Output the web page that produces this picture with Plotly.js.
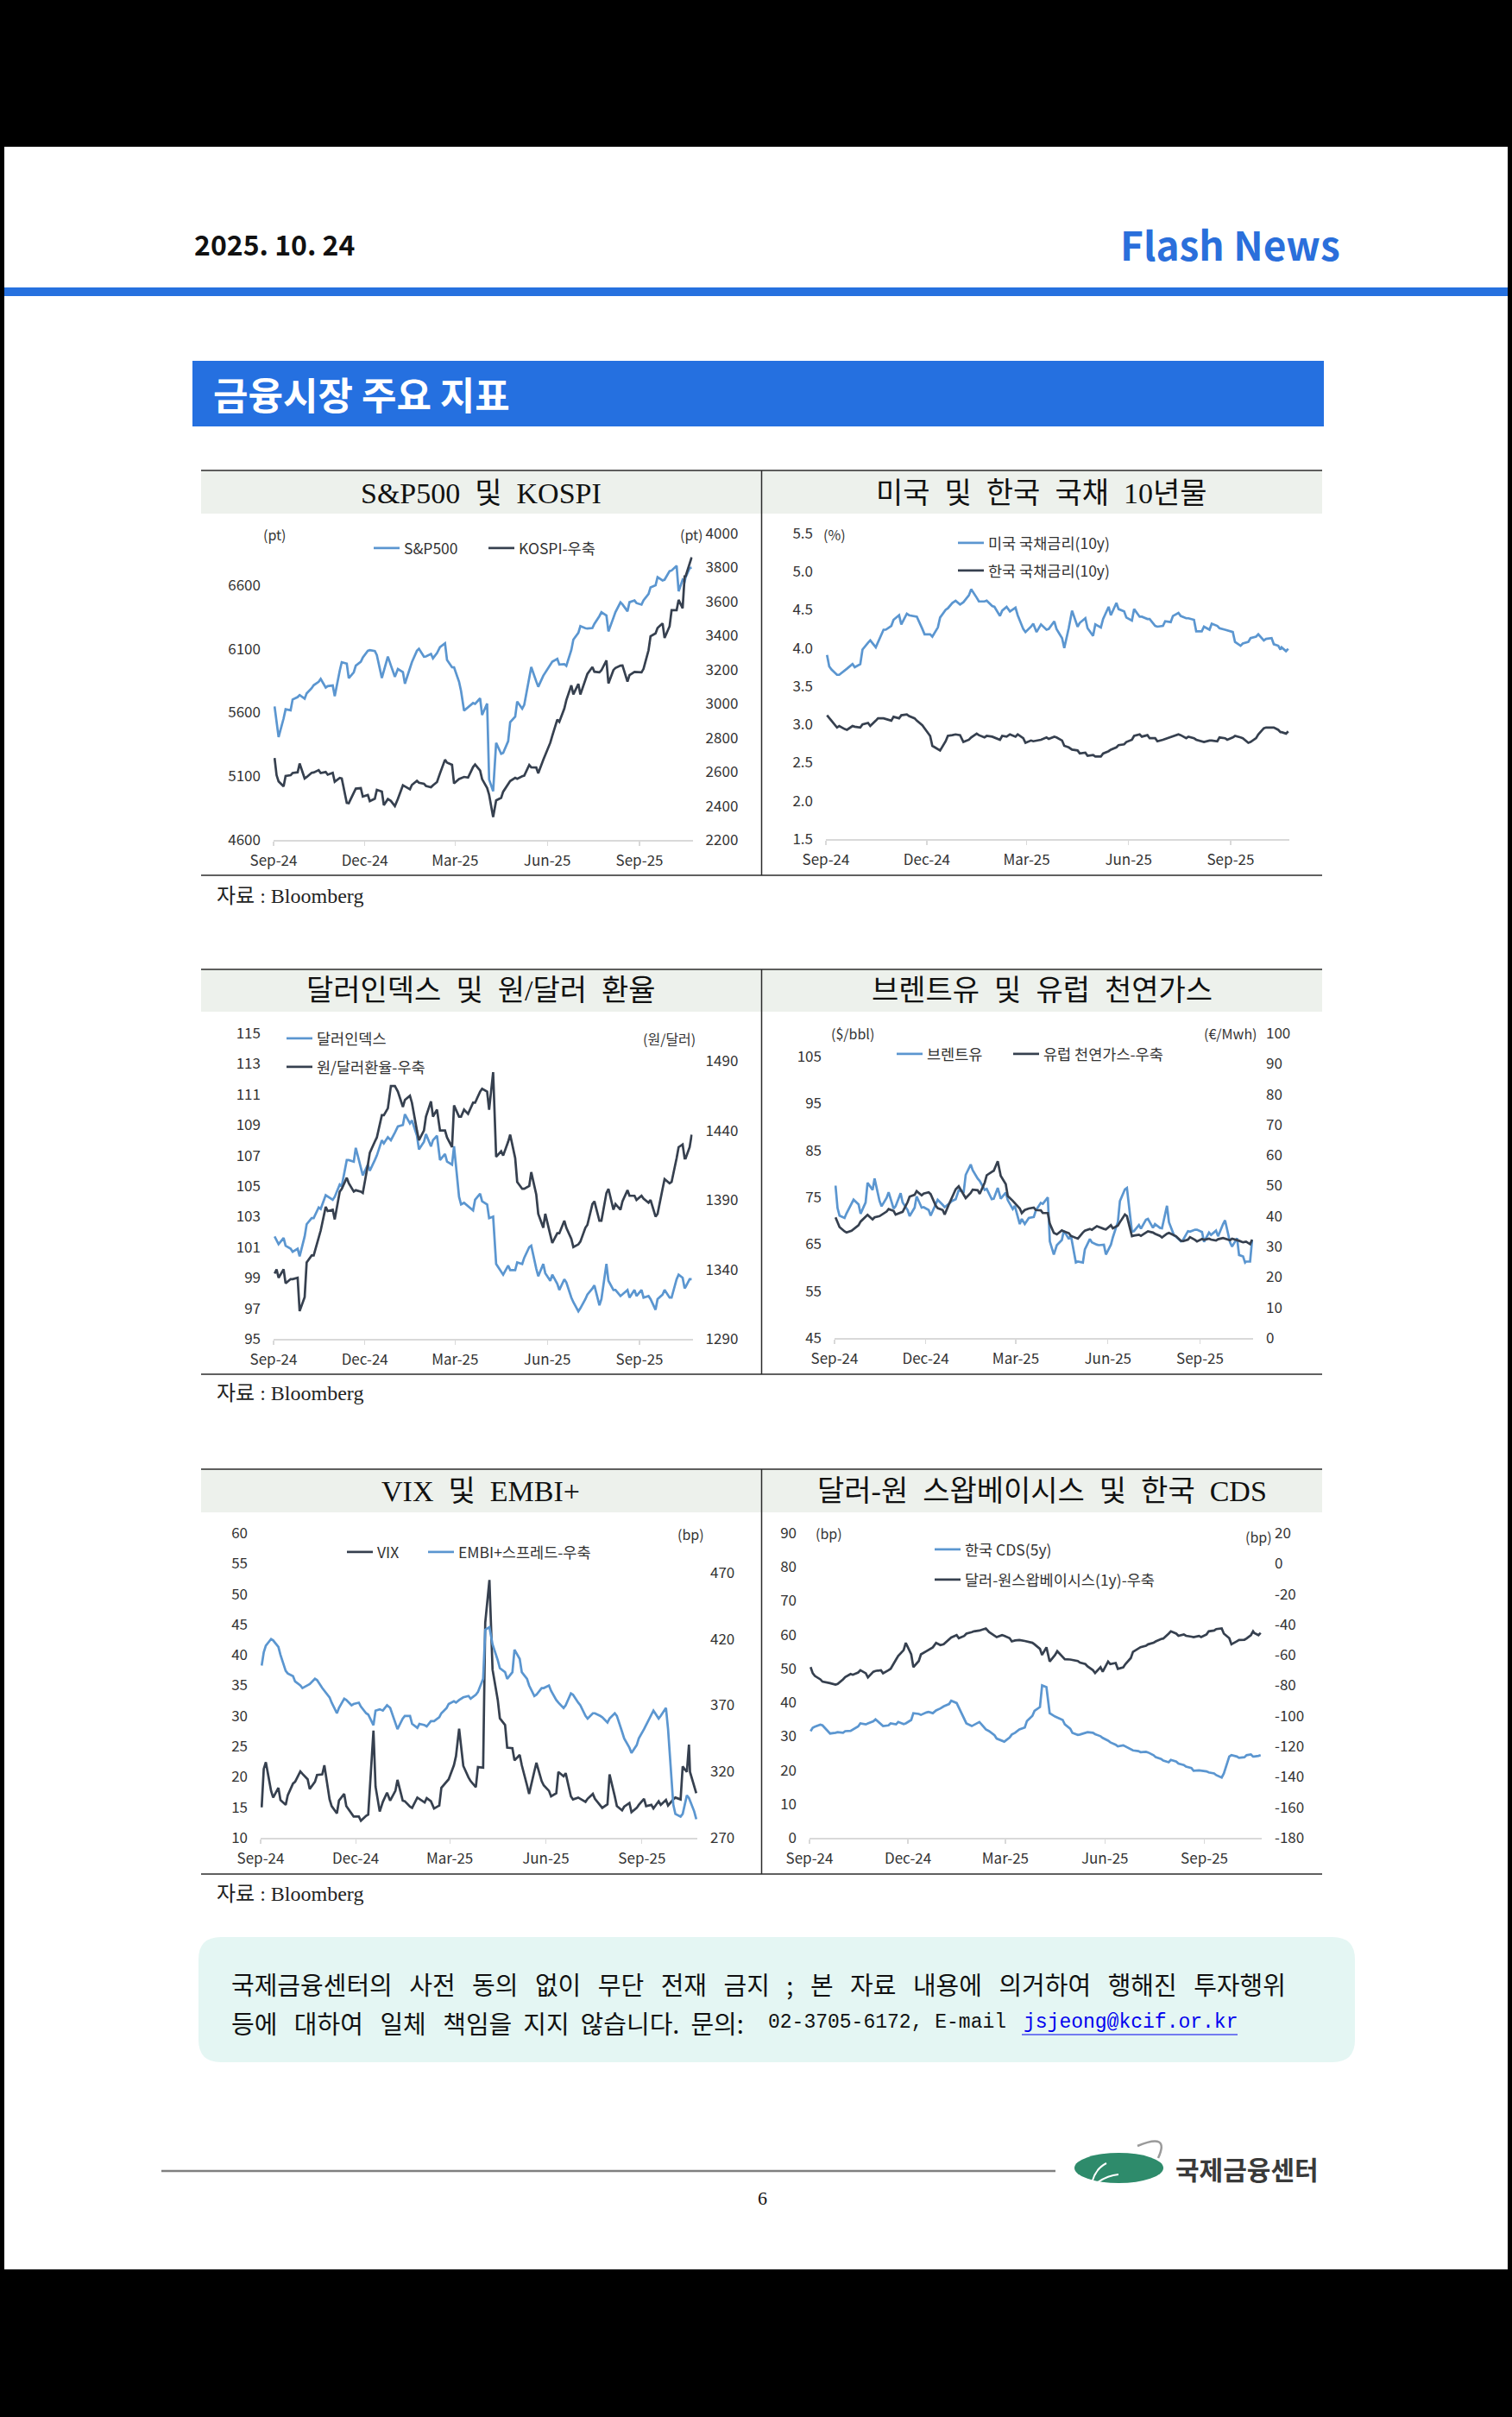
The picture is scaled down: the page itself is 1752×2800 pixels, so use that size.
<!DOCTYPE html>
<html>
<head>
<meta charset="utf-8">
<script src="https://cdn.plot.ly/plotly-3.0.1.min.js"></script>
<style>
html,body{margin:0;padding:0;background:#000;}
#page{width:1752px;height:2800px;}
</style>
</head>
<body>
<div id="page"></div>
<script>
// ---------------- DATA ----------------
const dates = [
'2024-09-02','2024-09-04','2024-09-06','2024-09-11','2024-09-13','2024-09-18','2024-09-20','2024-09-25','2024-09-27','2024-10-02',
'2024-10-04','2024-10-09','2024-10-11','2024-10-16','2024-10-18','2024-10-23','2024-10-25','2024-10-30','2024-11-01','2024-11-06',
'2024-11-08','2024-11-13','2024-11-15','2024-11-20','2024-11-22','2024-11-27','2024-11-29','2024-12-04','2024-12-06','2024-12-11',
'2024-12-13','2024-12-18','2024-12-20','2024-12-24','2024-12-27','2024-12-31','2025-01-03','2025-01-08','2025-01-10','2025-01-15',
'2025-01-17','2025-01-22','2025-01-24','2025-01-29','2025-01-31','2025-02-05','2025-02-07','2025-02-11','2025-02-14','2025-02-19',
'2025-02-21','2025-02-26','2025-02-28','2025-03-05','2025-03-07','2025-03-10','2025-03-14','2025-03-19','2025-03-21','2025-03-26',
'2025-03-28','2025-04-02','2025-04-04','2025-04-08','2025-04-11','2025-04-16','2025-04-18','2025-04-23','2025-04-25','2025-04-30',
'2025-05-02','2025-05-07','2025-05-09','2025-05-14','2025-05-16','2025-05-21','2025-05-23','2025-05-28','2025-05-30','2025-06-04',
'2025-06-06','2025-06-11','2025-06-13','2025-06-18','2025-06-20','2025-06-25','2025-06-27','2025-07-02','2025-07-04','2025-07-09',
'2025-07-11','2025-07-16','2025-07-18','2025-07-23','2025-07-25','2025-07-30','2025-08-01','2025-08-06','2025-08-08','2025-08-13',
'2025-08-15','2025-08-20','2025-08-22','2025-08-27','2025-08-29','2025-09-03','2025-09-05','2025-09-10','2025-09-12','2025-09-17',
'2025-09-19','2025-09-24','2025-09-26','2025-10-01','2025-10-03','2025-10-08','2025-10-10','2025-10-14','2025-10-16','2025-10-17',
'2025-10-21','2025-10-23'];

const tickDates = ['2024-09-01','2024-12-01','2025-03-01','2025-06-01','2025-09-01'];
const tickText = ['Sep-24','Dec-24','Mar-25','Jun-25','Sep-25'];

const sp500 = [
5648,5520,5408,5554,5626,5618,5703,5722,5738,5709,
5751,5792,5815,5842,5864,5797,5808,5813,5729,5929,
5996,5985,5870,5917,5969,5999,6032,6086,6090,6084,
6051,5872,5930,6040,5970,5882,5942,5918,5827,5950,
5997,6086,6101,6039,6041,6061,6026,6068,6115,6144,
6013,5956,5955,5842,5770,5615,5639,5675,5668,5712,
5581,5671,5074,4982,5363,5276,5283,5376,5525,5569,
5687,5631,5660,5892,5958,5845,5803,5889,5912,5970,
6000,6022,5977,5981,5967,6092,6173,6227,6279,6263,
6260,6264,6297,6358,6389,6362,6238,6345,6389,6466,
6450,6396,6467,6481,6460,6448,6482,6532,6584,6600,
6664,6638,6644,6711,6716,6753,6553,6644,6630,6664,
6735,6738];
const kospi = [
2681,2580,2544,2514,2575,2580,2593,2597,2649,2561,
2569,2594,2596,2610,2593,2599,2583,2594,2542,2564,
2561,2418,2416,2481,2501,2504,2455,2464,2428,2442,
2494,2484,2404,2440,2429,2399,2441,2521,2515,2497,
2523,2547,2536,2530,2517,2509,2521,2540,2591,2671,
2654,2641,2532,2558,2563,2570,2566,2628,2643,2607,
2557,2505,2465,2334,2432,2447,2483,2525,2546,2565,
2559,2574,2577,2640,2626,2625,2592,2670,2697,2771,
2812,2907,2894,2972,3021,3108,3055,3116,3054,3133,
3175,3215,3188,3184,3196,3254,3119,3198,3210,3224,
3225,3130,3168,3187,3186,3184,3205,3314,3396,3413,
3445,3472,3386,3455,3549,3549,3610,3561,3748,3749,
3823,3860];
const us10y = [
3.91,3.76,3.72,3.65,3.65,3.70,3.73,3.79,3.75,3.79,
3.98,4.07,4.10,4.01,4.08,4.24,4.24,4.29,4.37,4.43,
4.31,4.45,4.43,4.41,4.41,4.25,4.18,4.18,4.15,4.27,
4.40,4.50,4.52,4.59,4.62,4.57,4.60,4.69,4.77,4.66,
4.61,4.61,4.62,4.55,4.54,4.42,4.49,4.54,4.48,4.53,
4.43,4.25,4.21,4.28,4.32,4.21,4.31,4.24,4.25,4.35,
4.25,4.13,4.00,4.26,4.49,4.28,4.33,4.39,4.26,4.16,
4.31,4.27,4.38,4.54,4.43,4.59,4.51,4.48,4.40,4.36,
4.51,4.41,4.41,4.38,4.38,4.29,4.28,4.29,4.35,4.34,
4.42,4.46,4.42,4.39,4.39,4.37,4.22,4.22,4.28,4.24,
4.32,4.29,4.26,4.24,4.23,4.21,4.08,4.03,4.06,4.08,
4.13,4.15,4.18,4.10,4.12,4.13,4.05,4.03,3.98,4.01,
3.96,3.99];
const kr10y = [
3.12,3.08,3.05,2.96,2.98,2.94,2.93,2.98,2.97,2.96,
3.00,3.02,2.98,3.05,3.08,3.08,3.07,3.05,3.10,3.08,
3.12,3.13,3.11,3.08,3.05,2.99,2.95,2.85,2.72,2.68,
2.66,2.78,2.85,2.86,2.87,2.86,2.77,2.80,2.83,2.88,
2.86,2.83,2.85,2.84,2.83,2.80,2.85,2.84,2.87,2.84,
2.87,2.82,2.76,2.79,2.78,2.79,2.80,2.83,2.81,2.84,
2.83,2.79,2.72,2.70,2.67,2.66,2.62,2.63,2.59,2.60,
2.58,2.58,2.62,2.65,2.67,2.70,2.73,2.74,2.77,2.80,
2.85,2.87,2.84,2.86,2.82,2.82,2.78,2.80,2.81,2.83,
2.84,2.87,2.86,2.82,2.84,2.82,2.80,2.78,2.77,2.79,
2.79,2.78,2.83,2.82,2.80,2.83,2.85,2.83,2.82,2.76,
2.77,2.82,2.87,2.95,2.96,2.96,2.96,2.93,2.90,2.90,
2.88,2.91];
const dxy = [
101.7,101.4,101.2,101.6,101.1,100.9,100.7,100.9,100.4,101.7,
102.5,102.9,102.9,103.6,103.5,104.4,104.3,104.1,104.3,105.1,
105.0,106.7,106.7,106.6,107.5,106.1,105.7,106.4,106.0,106.7,
107.0,108.0,107.8,108.2,108.0,108.5,108.9,109.0,109.7,109.1,
109.3,108.3,107.4,107.9,108.4,107.6,108.0,108.3,106.7,107.1,
106.6,106.4,107.6,104.3,103.8,103.9,103.7,103.4,104.1,104.5,
104.0,103.8,102.9,103.0,99.9,99.4,99.2,99.8,99.5,99.5,
100.0,99.9,100.3,101.0,101.1,99.6,99.1,99.9,99.3,98.8,
99.2,98.6,98.2,98.9,98.7,97.7,97.4,96.8,97.0,97.6,
97.9,98.3,98.5,97.2,97.6,99.9,98.8,98.2,98.2,97.8,
97.9,98.2,97.7,98.2,97.8,98.2,97.7,97.8,97.6,96.9,
97.6,97.9,98.2,97.7,97.7,98.9,99.2,99.0,98.3,98.4,
98.9,98.9];
const usdkrw = [
1337,1340,1334,1340,1330,1333,1333,1334,1310,1320,
1345,1350,1350,1362,1368,1385,1382,1383,1376,1396,
1398,1406,1402,1396,1397,1396,1395,1415,1424,1432,
1435,1451,1451,1456,1472,1472,1468,1457,1462,1465,
1460,1440,1433,1440,1450,1461,1450,1455,1440,1440,
1435,1428,1458,1450,1450,1455,1452,1460,1460,1468,
1470,1468,1455,1482,1421,1425,1422,1432,1437,1420,
1403,1398,1398,1400,1410,1394,1380,1370,1380,1365,
1359,1366,1366,1375,1370,1362,1356,1358,1360,1370,
1372,1387,1389,1375,1375,1395,1398,1383,1387,1383,
1389,1397,1393,1393,1390,1393,1391,1388,1390,1378,
1380,1398,1405,1402,1403,1420,1428,1430,1420,1420,
1428,1437];
const brent = [
77.5,72.7,71.1,70.6,71.6,73.7,74.5,73.5,71.5,73.9,
78.1,76.6,79.0,74.2,73.1,74.9,76.1,72.6,73.1,75.9,
73.9,72.3,71.0,72.8,75.2,72.8,72.9,72.3,71.1,73.5,
74.5,73.4,72.9,73.6,74.2,74.6,76.5,76.2,79.8,82.0,
80.8,79.0,78.5,76.6,76.8,74.6,74.7,77.0,74.7,76.0,
74.4,72.5,73.2,69.3,70.4,69.3,70.6,70.8,72.2,73.8,
73.6,75.0,65.6,62.8,64.8,65.9,67.9,66.1,66.9,61.1,
61.3,61.1,63.9,66.1,65.4,64.9,64.8,64.9,62.8,64.9,
66.5,69.8,74.2,76.7,77.0,67.7,67.8,69.1,68.3,70.2,
70.4,68.5,69.3,68.5,68.4,73.2,69.7,66.9,66.6,65.6,
65.9,67.8,67.7,68.1,68.1,67.6,65.5,67.5,67.0,67.9,
66.7,69.3,70.1,65.4,64.5,66.3,62.7,62.4,61.1,61.3,
61.3,65.9];
const euGas = [
39.6,38.0,36.4,35.0,34.6,35.2,35.7,37.0,38.2,39.6,
40.4,38.9,39.6,40.0,40.5,41.5,42.3,41.7,40.5,41.0,
41.4,44.6,46.4,47.0,48.2,46.8,47.4,47.8,47.2,43.5,
42.6,42.0,40.5,43.7,45.9,48.8,49.8,47.1,45.9,47.6,
48.7,48.5,47.3,51.0,53.4,54.5,54.9,58.0,53.2,50.5,
46.6,45.0,44.3,42.5,41.0,42.0,42.5,42.8,42.0,41.9,
41.0,41.0,37.5,34.5,34.0,35.3,35.0,34.4,33.5,33.0,
32.6,34.6,35.2,35.8,35.5,36.7,36.4,35.8,35.6,37.0,
36.0,36.9,38.0,40.5,40.0,33.4,33.6,33.9,33.5,34.4,
35.0,34.6,34.2,33.5,33.0,34.2,34.5,33.7,33.4,31.9,
31.8,32.3,33.1,32.2,31.7,32.5,32.2,32.6,32.3,32.0,
32.4,32.8,32.6,32.1,32.6,32.2,31.9,31.4,31.6,31.6,
30.8,32.3];
const vix = [
15.0,21.3,22.4,17.7,16.6,18.2,16.2,15.4,17.0,18.9,
19.2,20.9,20.5,19.6,18.0,19.2,20.3,20.4,21.9,16.3,
15.2,14.0,16.1,17.2,15.2,14.1,13.5,13.5,12.8,13.6,
13.8,27.6,18.4,14.3,15.9,17.4,16.1,17.7,19.5,16.1,
16.0,15.1,14.9,16.6,16.4,15.8,16.5,16.0,14.8,15.3,
18.2,19.1,19.6,21.9,23.4,27.9,21.8,19.9,19.3,18.3,
21.6,21.5,45.3,52.3,37.6,32.6,29.6,28.5,24.8,24.7,
22.7,23.6,21.9,18.6,17.2,20.9,22.3,19.3,18.6,17.7,
16.8,17.3,20.8,20.1,20.6,16.8,16.3,16.6,16.4,15.9,
16.4,17.2,16.4,15.4,14.9,15.5,20.4,16.8,15.2,14.5,
15.1,15.7,14.2,14.9,15.4,16.4,15.2,15.4,14.8,16.0,
15.4,16.2,15.3,16.3,16.6,16.3,21.7,20.8,25.3,20.8,
18.2,17.3];
const embi = [
400,410,415,420,419,414,408,396,394,392,
388,385,383,385,386,390,389,383,381,376,
372,364,368,375,374,370,371,372,369,364,
363,355,366,367,366,370,368,357,352,360,
362,362,356,353,356,355,354,358,358,361,
364,368,371,373,372,374,376,377,375,378,
380,390,427,429,416,404,398,395,390,395,
412,405,395,390,385,377,378,383,383,385,
381,374,372,368,370,379,378,372,370,362,
360,364,364,362,361,357,360,364,362,350,
345,338,334,340,345,352,355,362,366,360,
362,368,352,295,288,286,288,302,300,298,
290,284];
const krCds = [
31.5,32.5,32.8,33.4,33.2,31.6,30.8,31.0,31.2,31.0,
31.5,31.6,32.0,32.9,33.8,33.5,33.8,34.4,35.0,33.4,
33.0,33.2,33.8,33.5,34.2,33.6,33.8,34.8,36.8,36.6,
36.3,37.0,37.2,36.8,37.6,38.2,38.8,39.5,40.5,39.8,
38.5,35.5,33.8,33.0,33.4,34.2,33.5,32.0,31.5,30.3,
29.3,28.6,28.4,29.6,30.5,31.0,32.0,32.6,34.5,36.0,
37.5,38.6,45.0,44.5,36.8,35.8,35.5,34.8,33.5,32.2,
31.0,30.4,30.5,31.0,31.2,31.0,30.6,30.0,29.5,28.7,
28.2,27.5,27.0,27.3,27.0,26.2,25.8,25.6,25.3,25.4,
25.2,24.4,23.8,23.3,22.8,22.3,23.0,22.5,21.9,21.5,
21.0,20.6,19.8,19.9,19.8,19.6,19.3,19.0,18.5,17.8,
19.0,24.0,24.4,24.0,23.6,23.8,24.4,24.6,24.0,24.0,
24.2,24.4];
const swapBasis = [
-68.0,-72.0,-73.8,-76.0,-77.5,-78.0,-78.5,-79.5,-79.0,-76.0,
-74.5,-72.5,-73.0,-71.5,-70.0,-72.0,-74.7,-71.0,-70.5,-70.0,
-72.0,-70.0,-69.1,-63.0,-60.6,-56.8,-52.1,-59.6,-68.0,-64.0,
-59.6,-57.5,-56.8,-55.0,-52.1,-53.5,-53.0,-50.0,-48.5,-47.0,
-49.0,-47.5,-46.0,-45.0,-44.5,-44.0,-43.6,-42.6,-45.0,-47.5,
-48.3,-47.0,-47.4,-49.0,-51.1,-50.5,-50.2,-50.8,-51.1,-52.0,
-53.0,-56.0,-60.0,-55.0,-64.3,-60.0,-57.5,-61.0,-62.8,-63.0,
-63.4,-64.0,-65.0,-66.0,-67.5,-70.0,-71.9,-68.0,-71.0,-64.3,
-66.0,-65.3,-69.1,-68.1,-66.0,-62.0,-58.0,-56.0,-54.9,-54.0,
-53.0,-52.0,-51.1,-49.5,-49.2,-46.0,-44.5,-46.0,-47.4,-46.5,
-47.4,-48.0,-48.3,-47.5,-48.3,-46.5,-44.5,-44.0,-43.0,-42.6,
-46.0,-49.0,-53.0,-51.0,-50.2,-50.0,-49.2,-47.0,-44.5,-45.5,
-47.0,-45.5];

// tick label lists
const spTicks = [4600,5100,5600,6100,6600];
const kospiTicks = [2200,2400,2600,2800,3000,3200,3400,3600,3800,4000];
const yieldTicks = [1.5,2.0,2.5,3.0,3.5,4.0,4.5,5.0,5.5];
const dxyTicks = [95,97,99,101,103,105,107,109,111,113,115];
const krwTicks = [1290,1340,1390,1440,1490];
const brentTicks = [45,55,65,75,85,95,105];
const gasTicks = [0,10,20,30,40,50,60,70,80,90,100];
const vixTicks = [10,15,20,25,30,35,40,45,50,55,60];
const embiTicks = [270,320,370,420,470];
const cdsTicks = [0,10,20,30,40,50,60,70,80,90];
const basisTicks = [-180,-160,-140,-120,-100,-80,-60,-40,-20,0,20];

const chartTitles = ['S&P500 및 KOSPI','미국 및 한국 국채 10년물','달러인덱스 및 원/달러 환율','브렌트유 및 유럽 천연가스','VIX 및 EMBI+','달러-원 스왑베이시스 및 한국 CDS'];

// ---------------- LAYOUT HELPERS ----------------
const W = 1752, H = 2800;
const X = p => p / W, Y = p => 1 - p / H;
const LIGHT = '#5B96D0', DARK = '#36404F';
const SANS = "'Noto Sans CJK KR', 'Noto Sans', sans-serif";
const SERIF = "'Liberation Serif', 'Noto Sans CJK KR', serif";
const MONO = "'Liberation Mono', 'DejaVu Sans Mono', monospace";
const TICKFONT = {family: SANS, size: 17, color: '#333333'};
const NB = n => '\u00a0'.repeat(n);

const panels = [
  {x0: 317, x1: 802.6, top: 618, bottom: 973},
  {x0: 957, x1: 1494, top: 618, bottom: 972},
  {x0: 317, x1: 802.6, top: 1197, bottom: 1551},
  {x0: 967, x1: 1452, top: 1197, bottom: 1550},
  {x0: 302, x1: 808, top: 1776, bottom: 2129},
  {x0: 938, x1: 1462, top: 1776, bottom: 2129}
];

function xa(p, anchor) {
  return {domain: [X(p.x0), X(p.x1)], anchor: anchor, type: 'date',
    range: ['2024-09-01', '2025-10-24'], tickmode: 'array', tickvals: tickDates, ticktext: tickText,
    showline: true, linecolor: '#D9D9D9', linewidth: 1.5, ticks: 'outside', ticklen: 5, tickwidth: 1.2,
    tickcolor: '#D9D9D9', showgrid: false, zeroline: false, tickfont: TICKFONT, ticklabelstandoff: 3,
    fixedrange: true};
}
function ya(p, anchor, range, vals, dec, overlay) {
  const a = {anchor: anchor, range: range, tickmode: 'array', tickvals: vals,
    ticktext: vals.map(v => dec ? v.toFixed(dec) : String(v)), showgrid: false,
    zeroline: false, showline: false, ticks: '', tickfont: TICKFONT, ticklabelstandoff: 14, fixedrange: true};
  if (overlay) { a.side = 'right'; a.overlaying = overlay; }
  else a.domain = [Y(p.bottom), Y(p.top)];
  return a;
}
function lg(px, py) {
  return {x: X(px - 6), y: Y(py), xanchor: 'left', yanchor: 'middle', orientation: 'v',
    bgcolor: 'rgba(0,0,0,0)', borderwidth: 0, font: {family: SANS, size: 17.5, color: '#333333'},
    itemwidth: 30, itemclick: false, itemdoubleclick: false};
}
function tr(y, xa_, ya_, name, leg, color) {
  return {type: 'scatter', mode: 'lines', x: dates, y: y, xaxis: xa_, yaxis: ya_, name: name,
    legend: leg, showlegend: true, line: {color: color, width: 2.7}, hoverinfo: 'skip'};
}
function ann(text, px, py, font, xanchor) {
  return {text: text, x: X(px), y: Y(py), xref: 'paper', yref: 'paper', showarrow: false,
    xanchor: xanchor || 'center', yanchor: 'middle', font: font};
}
function rect(x0, y0, x1, y1, fill) {
  return {type: 'rect', xref: 'paper', yref: 'paper', x0: X(x0), x1: X(x1), y0: Y(y1), y1: Y(y0),
    fillcolor: fill, line: {width: 0}, layer: 'below'};
}
function seg(x0, y0, x1, y1, color, w) {
  return {type: 'line', xref: 'paper', yref: 'paper', x0: X(x0), x1: X(x1), y0: Y(y0), y1: Y(y1),
    line: {color: color, width: w}, layer: 'below'};
}
function roundRect(x0, y0, x1, y1, r, fill) {
  const P = (a, b) => X(a) + ',' + Y(b);
  const d = 'M' + P(x0 + r, y0) + ' L' + P(x1 - r, y0) + ' Q' + P(x1, y0) + ' ' + P(x1, y0 + r) +
    ' L' + P(x1, y1 - r) + ' Q' + P(x1, y1) + ' ' + P(x1 - r, y1) + ' L' + P(x0 + r, y1) +
    ' Q' + P(x0, y1) + ' ' + P(x0, y1 - r) + ' L' + P(x0, y0 + r) + ' Q' + P(x0, y0) + ' ' + P(x0 + r, y0) + ' Z';
  return {type: 'path', xref: 'paper', yref: 'paper', path: d, fillcolor: fill, line: {width: 0}, layer: 'below'};
}
function curve(pts, color, w) {
  const P = (a, b) => X(a) + ',' + Y(b);
  const d = 'M' + P(pts[0], pts[1]) + ' Q' + P(pts[2], pts[3]) + ' ' + P(pts[4], pts[5]);
  return {type: 'path', xref: 'paper', yref: 'paper', path: d, line: {color: color, width: w}, layer: 'below'};
}

// ---------------- TRACES ----------------
const data = [
  tr(sp500, 'x', 'y', 'S&P500', 'legend', LIGHT),
  tr(kospi, 'x', 'y2', 'KOSPI-우축', 'legend2', DARK),
  tr(us10y, 'x2', 'y3', '미국 국채금리(10y)', 'legend3', LIGHT),
  tr(kr10y, 'x2', 'y3', '한국 국채금리(10y)', 'legend4', DARK),
  tr(dxy, 'x3', 'y4', '달러인덱스', 'legend5', LIGHT),
  tr(usdkrw, 'x3', 'y5', '원/달러환율-우축', 'legend6', DARK),
  tr(brent, 'x4', 'y6', '브렌트유', 'legend7', LIGHT),
  tr(euGas, 'x4', 'y7', '유럽 천연가스-우축', 'legend8', DARK),
  tr(vix, 'x5', 'y8', 'VIX', 'legend9', DARK),
  tr(embi, 'x5', 'y9', 'EMBI+스프레드-우축', 'legend10', LIGHT),
  tr(krCds, 'x6', 'y10', '한국 CDS(5y)', 'legend11', LIGHT),
  tr(swapBasis, 'x6', 'y11', '달러-원스왑베이시스(1y)-우축', 'legend12', DARK)
];

// ---------------- LAYOUT ----------------
const layout = {
  width: W, height: H, margin: {l: 0, r: 0, t: 0, b: 0, autoexpand: false},
  paper_bgcolor: '#000000', plot_bgcolor: 'rgba(0,0,0,0)', showlegend: true,
  xaxis: xa(panels[0], 'y'), yaxis: ya(panels[0], 'x', [4600, 7007], spTicks),
  yaxis2: ya(panels[0], 'x', [2200, 4000], kospiTicks, 0, 'y'),
  xaxis2: xa(panels[1], 'y3'), yaxis3: ya(panels[1], 'x2', [1.5, 5.5], yieldTicks, 1),
  xaxis3: xa(panels[2], 'y4'), yaxis4: ya(panels[2], 'x3', [95, 115], dxyTicks),
  yaxis5: ya(panels[2], 'x3', [1290, 1510], krwTicks, 0, 'y4'),
  xaxis4: xa(panels[3], 'y6'), yaxis6: ya(panels[3], 'x4', [45, 110], brentTicks),
  yaxis7: ya(panels[3], 'x4', [0, 100], gasTicks, 0, 'y6'),
  xaxis5: xa(panels[4], 'y8'), yaxis8: ya(panels[4], 'x5', [10, 60], vixTicks),
  yaxis9: ya(panels[4], 'x5', [270, 500], embiTicks, 0, 'y8'),
  xaxis6: xa(panels[5], 'y10'), yaxis10: ya(panels[5], 'x6', [0, 90], cdsTicks),
  yaxis11: ya(panels[5], 'x6', [-180, 20], basisTicks, 0, 'y10'),
  legend: lg(434, 635), legend2: lg(567, 635),
  legend3: lg(1111, 629), legend4: lg(1111, 661),
  legend5: lg(333, 1203), legend6: lg(333, 1236),
  legend7: lg(1040, 1221), legend8: lg(1175, 1221),
  legend9: lg(403, 1798), legend10: lg(497, 1798),
  legend11: lg(1084, 1795), legend12: lg(1084, 1830)
};

// page decoration shapes
const shapes = [
  rect(5, 170, 1747, 2629, '#FFFFFF'),
  rect(5, 333, 1747, 343, '#2671DF'),
  rect(223, 418, 1534, 494, '#2570E0')
];
const rows = [[545, 595, 1014], [1123, 1172, 1592], [1702, 1752, 2171]];
rows.forEach(r => {
  shapes.push(rect(233, r[0], 1532, r[1], '#EDF1EC'));
  shapes.push(seg(233, r[0], 1532, r[0], '#2b2b2b', 1.5));
  shapes.push(seg(233, r[2], 1532, r[2], '#2b2b2b', 1.5));
  shapes.push(seg(882.5, r[0], 882.5, r[2], '#2b2b2b', 1.5));
});
shapes.push(roundRect(230, 2244, 1570, 2389, 26, '#E4F6F3'));
shapes.push(seg(1184, 2357, 1434, 2357, '#0000EE', 1.2));
shapes.push(seg(187, 2515, 1223, 2515, '#808080', 2.5));
// logo
shapes.push({type: 'circle', xref: 'paper', yref: 'paper', x0: X(1245), x1: X(1348), y0: Y(2529), y1: Y(2494),
  fillcolor: '#2E8B6B', line: {width: 0}, layer: 'below'});
shapes.push(curve([1266, 2526, 1270, 2512, 1282, 2506], '#FFFFFF', 2));
shapes.push(curve([1272, 2528, 1284, 2520, 1296, 2519], '#FFFFFF', 2));
shapes.push(curve([1318, 2486, 1356, 2470, 1342, 2500], '#9A9A9A', 2.5));
layout.shapes = shapes;

// text annotations
const UNIT = {family: SANS, size: 16, color: '#333333'};
const TITLEF = {family: SERIF, size: 34, color: '#111111'};
const SRC = {family: SERIF, size: 24, color: '#222222'};
const wide = s => s.replace(/ /g, NB(2));
const line2 = '등에' + NB(3) + '대하여' + NB(3) + '일체' + NB(3) + '책임을' + NB(2) + '지지' + NB(2) + '않습니다.' + NB(2) + '문의:';
const annotations = [
  ann('2025. 10. 24', 223, 282, {family: SANS, size: 32, color: '#111111', weight: 'bold'}, 'left'),
  ann('Flash News', 1296, 282, {family: SANS, size: 46, color: '#2A6FDB', weight: 'bold'}, 'left'),
  ann('금융시장 주요 지표', 245, 456, {family: SANS, size: 44, color: '#FFFFFF', weight: 'bold'}, 'left'),
  ann(wide(chartTitles[0]), 557, 571, TITLEF), ann(wide(chartTitles[1]), 1207, 571, TITLEF),
  ann(wide(chartTitles[2]), 557, 1148, TITLEF), ann(wide(chartTitles[3]), 1207, 1148, TITLEF),
  ann(wide(chartTitles[4]), 557, 1727, TITLEF), ann(wide(chartTitles[5]), 1207, 1727, TITLEF),
  ann('(pt)', 318, 619, UNIT), ann('(pt)', 801, 619, UNIT),
  ann('(%)', 967, 619, UNIT),
  ann('(원/달러)', 775, 1203, UNIT),
  ann('($/bbl)', 988, 1197, UNIT), ann('(€/Mwh)', 1426, 1197, UNIT),
  ann('(bp)', 800, 1777, UNIT),
  ann('(bp)', 960, 1776, UNIT), ann('(bp)', 1458, 1780, UNIT),
  ann('자료 : Bloomberg', 249, 1038, SRC, 'left'),
  ann('자료 : Bloomberg', 249, 1614, SRC, 'left'),
  ann('자료 : Bloomberg', 249, 2194, SRC, 'left'),
  ann('국제금융센터의 사전 동의 없이 무단 전재 금지 ; 본 자료 내용에 의거하여 행해진 투자행위'.replace(/ /g, NB(3)),
      266, 2298, {family: SANS, size: 29, color: '#111111'}, 'left'),
  ann(line2, 266, 2343, {family: SANS, size: 29, color: '#111111'}, 'left'),
  ann('02-3705-6172, E-mail', 888, 2343, {family: MONO, size: 23, color: '#111111'}, 'left'),
  ann('jsjeong@kcif.or.kr', 1184, 2343, {family: MONO, size: 23, color: '#0000EE'}, 'left'),
  ann('6', 883, 2546, {family: SERIF, size: 22, color: '#111111'}),
  ann('국제금융센터', 1360, 2512, {family: SANS, size: 30, color: '#3a3a3a', weight: 'bold'}, 'left')
];
layout.annotations = annotations;

Plotly.newPlot('page', data, layout, {staticPlot: true, displayModeBar: false});
</script>
</body>
</html>
